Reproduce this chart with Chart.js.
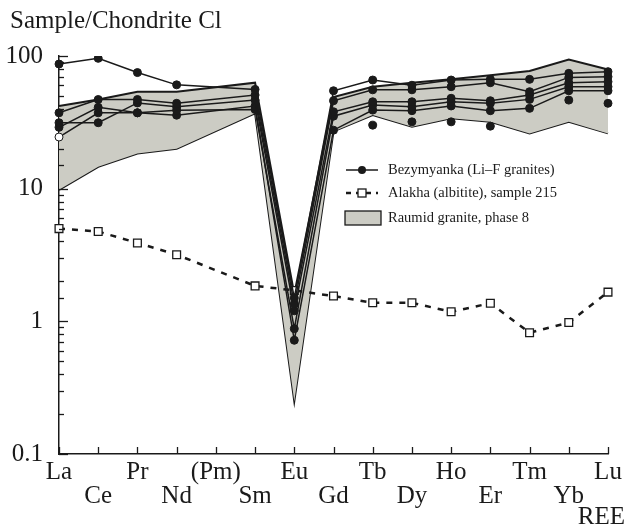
<!DOCTYPE html>
<html>
<head>
<meta charset="utf-8">
<script src="https://cdn.jsdelivr.net/npm/chart.js@4.4.0/dist/chart.umd.min.js"></script>
<style>
  html, body { margin: 0; padding: 0; background: #fff; }
</style>
</head>
<body>
<canvas id="reeChart" width="626" height="532"></canvas>
<script>
// REE categories (x axis)
const elements = ['La', 'Ce', 'Pr', 'Nd', '(Pm)', 'Sm', 'Eu', 'Gd', 'Tb', 'Dy', 'Ho', 'Er', 'Tm', 'Yb', 'Lu'];

// Bezymyanka (Li-F granites), chondrite-normalised, one array per sample
const bez1 = [87, 96, 75, 60.6, null, 56, 1.5, 54.7, 65.9, 60.2, 65.9, 66.7, 66.7, 74, 76.2];
const bez2 = [37.3, 47, 47, 44, null, 50.8, 1.35, 46, 55.6, 55.6, 58.7, 62.9, 53.8, 69, 69.8];
const bez3 = [31.4, 31.4, 44.3, 41.4, null, 46.5, 1.2, 38, 45.2, 45.2, 48, 46, 50.8, 62.9, 64];
const bez4 = [29, 41, 37.3, 39, null, 39.5, 0.88, 35.2, 42.7, 41.4, 45.2, 44, 47.1, 58.7, 58.7];
const bez5 = [24.5, 37.3, 37.3, 35.8, null, 42, 0.72, 27.6, 39.1, 38.7, 42, 38.7, 40.3, 54.7, 54.7];
// loose analyses plotted as points only
const bezDots = [null, null, null, null, null, null, null, null, 30.1, 31.9, 31.9, 29.6, null, 46.5, 44];

// Alakha (albitite), sample 215
const alakha = [5.0, 4.75, 3.9, 3.18, null, 1.85, 1.71, 1.55, 1.38, 1.38, 1.18, 1.37, 0.82, 0.98, 1.66];

// Raumid granite, phase 8: envelope
const raumidUpper = [42, 47, 53.8, 53.8, null, 62.9, 1.6, 49, 58.7, 62.9, 66.7, 71.7, 77, 94, 79];
const raumidLower = [9.8, 14.6, 18.4, 20, null, 37, 0.25, 27, 35.9, 29.3, 34, 31.9, 26.1, 31.9, 26.1];

const yTickLabels = [0.1, 1, 10, 100];

const ink = '#1a1a1a';
const bandFill = 'rgb(204,204,196)';
const serif = '"Liberation Serif", "DejaVu Serif", serif';

const isDecade = v => yTickLabels.some(t => Math.abs(t - v) < 1e-9);

function bezSet(values, label) {
  return {
    label: label,
    data: values,
    borderColor: ink,
    borderWidth: 1.5,
    pointRadius: 4,
    pointBorderWidth: 1,
    pointBorderColor: ink,
    pointBackgroundColor: ctx => (values === bez5 && ctx.dataIndex === 0) ? '#fff' : ink,
    spanGaps: true,
    fill: false,
    order: 0
  };
}

const datasets = [
  bezSet(bez1, 'Bezymyanka (Li–F granites)'),
  bezSet(bez2, 'Bezymyanka 2'),
  bezSet(bez3, 'Bezymyanka 3'),
  bezSet(bez4, 'Bezymyanka 4'),
  bezSet(bez5, 'Bezymyanka 5'),
  {
    label: 'Bezymyanka dots',
    data: bezDots,
    showLine: false,
    pointRadius: 4,
    pointBackgroundColor: ink,
    pointBorderColor: ink,
    order: 0
  },
  {
    label: 'Alakha (albitite), sample 215',
    data: alakha,
    borderColor: ink,
    borderWidth: 2.5,
    borderDash: [6, 7],
    pointStyle: 'rect',
    pointRadius: 5.5,
    pointBorderWidth: 1.3,
    pointBorderColor: ink,
    pointBackgroundColor: '#fff',
    spanGaps: true,
    fill: false,
    order: 1
  },
  {
    label: 'Raumid granite, phase 8',
    data: raumidUpper,
    borderColor: ink,
    borderWidth: 2,
    pointRadius: 0,
    backgroundColor: bandFill,
    spanGaps: true,
    fill: '+1',
    order: 5
  },
  {
    label: 'Raumid lower',
    data: raumidLower,
    borderColor: ink,
    borderWidth: 2,
    pointRadius: 0,
    spanGaps: true,
    fill: false,
    order: 5
  }
];

// inward tick marks, axis texts and the boxed-in legend
const decorations = {
  id: 'decorations',
  afterDraw(chart) {
    const { ctx, chartArea: a, scales: { x, y } } = chart;
    ctx.save();
    ctx.strokeStyle = ink;
    ctx.lineWidth = 1.3;
    y.ticks.forEach(t => {
      const py = Math.round(y.getPixelForValue(t.value)) + 0.5;
      ctx.beginPath();
      ctx.moveTo(a.left, py);
      ctx.lineTo(a.left + (isDecade(t.value) ? 9 : 5), py);
      ctx.stroke();
    });
    x.ticks.forEach((t, i) => {
      const px = Math.round(x.getPixelForTick(i)) + 0.5;
      ctx.beginPath();
      ctx.moveTo(px, a.bottom);
      ctx.lineTo(px, a.bottom - 7);
      ctx.stroke();
    });

    ctx.fillStyle = ink;
    ctx.font = '25px ' + serif;
    ctx.textBaseline = 'alphabetic';
    ctx.textAlign = 'left';
    ctx.fillText('Sample/Chondrite Cl', 10, 28);
    ctx.textAlign = 'right';
    ctx.fillText('REE', chart.width - 1, a.bottom + 70);

    // legend
    const lx = 346, tx = 388;
    ctx.textAlign = 'left';
    ctx.textBaseline = 'middle';
    ctx.font = '14.5px ' + serif;

    let ly = 170;
    ctx.lineWidth = 1.5;
    ctx.beginPath(); ctx.moveTo(lx, ly); ctx.lineTo(lx + 32, ly); ctx.stroke();
    ctx.beginPath(); ctx.arc(lx + 16, ly, 4, 0, Math.PI * 2); ctx.fill();
    ctx.fillText('Bezymyanka (Li–F granites)', tx, ly);

    ly = 193;
    ctx.lineWidth = 2.5;
    ctx.setLineDash([5, 5]);
    ctx.beginPath(); ctx.moveTo(lx, ly); ctx.lineTo(lx + 32, ly); ctx.stroke();
    ctx.setLineDash([]);
    ctx.lineWidth = 1.3;
    ctx.fillStyle = '#fff';
    ctx.fillRect(lx + 12, ly - 4, 8, 8);
    ctx.strokeRect(lx + 12, ly - 4, 8, 8);
    ctx.fillStyle = ink;
    ctx.fillText('Alakha (albitite), sample 215', tx, ly);

    ly = 218;
    ctx.fillStyle = bandFill;
    ctx.fillRect(lx - 1, ly - 7, 36, 14);
    ctx.strokeRect(lx - 1, ly - 7, 36, 14);
    ctx.fillStyle = ink;
    ctx.fillText('Raumid granite, phase 8', tx, ly);
    ctx.restore();
  }
};

new Chart(document.getElementById('reeChart').getContext('2d'), {
  type: 'line',
  data: { labels: elements, datasets: datasets },
  options: {
    responsive: false,
    animation: false,
    layout: { padding: { top: 56, right: 18, left: 0, bottom: 0 } },
    plugins: {
      legend: { display: false },
      tooltip: { enabled: false },
      title: { display: false }
    },
    scales: {
      x: {
        type: 'category',
        offset: false,
        grid: { display: false },
        border: { display: true, color: ink, width: 1.5 },
        afterFit: scale => { scale.height = 78; },
        ticks: {
          autoSkip: false,
          maxRotation: 0,
          padding: -2,
          color: ink,
          font: { family: serif, size: 25, lineHeight: 0.96 },
          callback: function (value, index) {
            const name = elements[index];
            return index % 2 === 0 ? [name, ''] : ['', name];
          }
        }
      },
      y: {
        type: 'logarithmic',
        min: 0.1,
        max: 100,
        grid: { display: false },
        border: { display: true, color: ink, width: 1.5 },
        afterFit: scale => { scale.width = 59; },
        ticks: {
          autoSkip: false,
          padding: 8,
          color: ink,
          font: { family: serif, size: 25 },
          callback: v => isDecade(v) ? String(v) : ''
        }
      }
    }
  },
  plugins: [decorations]
});
</script>
</body>
</html>
